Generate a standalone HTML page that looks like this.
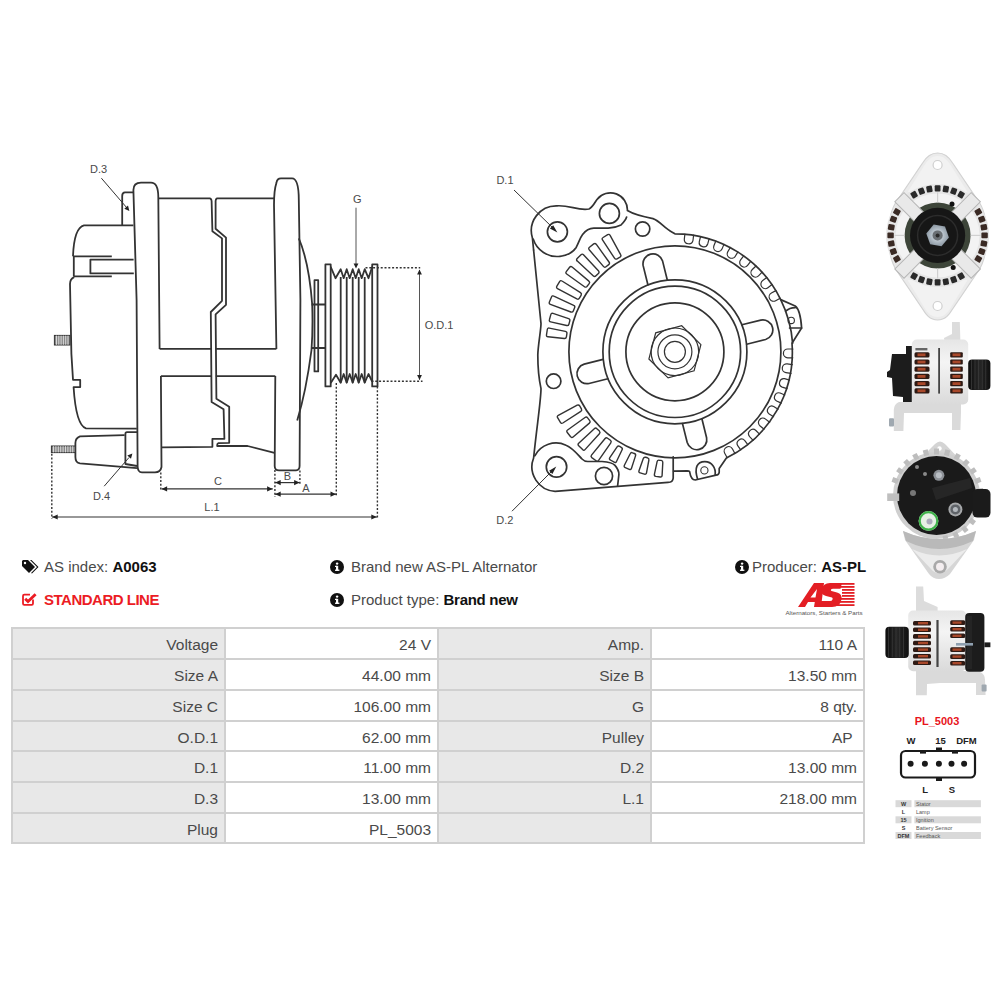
<!DOCTYPE html>
<html><head><meta charset="utf-8">
<style>
html,body{margin:0;padding:0;background:#fff;width:1000px;height:1000px;overflow:hidden;position:relative;font-family:"Liberation Sans",sans-serif;}
.t{position:absolute;white-space:nowrap;font-size:15px;color:#4a4a4a;line-height:1;}
.b{font-weight:bold;color:#111;}
.red{color:#ec1c24;font-weight:bold;letter-spacing:-0.5px;}
.c{position:absolute;text-align:right;font-size:15.5px;color:#4a4a4a;box-sizing:border-box;padding-right:6px;white-space:nowrap;}
</style></head><body>
<svg width="1000" height="1000" viewBox="0 0 1000 1000" style="position:absolute;left:0;top:0">
<g><path d="M159.6,348.9 L158.3,196.8 Q158.2,182.6 151,182.6 L141,182.6 Q133.4,182.6 133.4,190 L136.6,300 L137.6,466 Q137.6,472.4 142,472.4 L155,472.4 Q160.5,472.4 161.5,467 L160.9,376.1" fill="none" stroke="#333" stroke-width="1.8" stroke-linejoin="round" /><path d="M133.4,192.4 L125,192.4 Q122.2,192.4 122.2,196 L122.2,225.4" fill="none" stroke="#333" stroke-width="1.8" stroke-linejoin="round" /><path d="M133.4,225.4 L84,225.4 Q74,228 73,256.4" fill="none" stroke="#333" stroke-width="1.8" stroke-linejoin="round" /><path d="M73,256.4 L111.8,256.4" fill="none" stroke="#333" stroke-width="1.8" stroke-linejoin="round" /><path d="M133.6,259.6 L90.4,259.6 L90.4,273.4 L133.8,273.4" fill="none" stroke="#333" stroke-width="1.8" stroke-linejoin="round" /><path d="M73.8,256.4 L73.8,276.4 M73.8,276.4 L111.8,276.4" fill="none" stroke="#333" stroke-width="1.8" stroke-linejoin="round" /><path d="M74.2,277.2 Q70,279 70,284 L71.4,354 L73,379.8 L80.2,379.8 L80.2,387 L73.6,387.2 Q76,425 86,428.4 L136.8,428.6" fill="none" stroke="#333" stroke-width="1.8" stroke-linejoin="round" /><rect x="54.4" y="335.4" width="15.6" height="9.6" fill="#888" stroke="#333" stroke-width="1"/><line x1="56.5" y1="335.6" x2="56.5" y2="344.8" stroke="#eee" stroke-width="0.8"/><line x1="58.8" y1="335.6" x2="58.8" y2="344.8" stroke="#eee" stroke-width="0.8"/><line x1="61.1" y1="335.6" x2="61.1" y2="344.8" stroke="#eee" stroke-width="0.8"/><line x1="63.4" y1="335.6" x2="63.4" y2="344.8" stroke="#eee" stroke-width="0.8"/><line x1="65.7" y1="335.6" x2="65.7" y2="344.8" stroke="#eee" stroke-width="0.8"/><line x1="68.0" y1="335.6" x2="68.0" y2="344.8" stroke="#eee" stroke-width="0.8"/><path d="M124.6,435.2 L80,436.4 Q75.4,438 75.4,443 L75.4,457 Q75.4,462.8 80,463.4 L137,468.2" fill="none" stroke="#333" stroke-width="1.8" stroke-linejoin="round" /><path d="M137,432.2 L127,432.2 Q125.4,432.2 125.4,434 L125.4,464 L137,466" fill="none" stroke="#333" stroke-width="1.8" stroke-linejoin="round" /><rect x="51.4" y="446" width="24" height="6.6" fill="#888" stroke="#333" stroke-width="1"/><line x1="53.5" y1="446.2" x2="53.5" y2="452.4" stroke="#eee" stroke-width="0.8"/><line x1="55.9" y1="446.2" x2="55.9" y2="452.4" stroke="#eee" stroke-width="0.8"/><line x1="58.3" y1="446.2" x2="58.3" y2="452.4" stroke="#eee" stroke-width="0.8"/><line x1="60.7" y1="446.2" x2="60.7" y2="452.4" stroke="#eee" stroke-width="0.8"/><line x1="63.1" y1="446.2" x2="63.1" y2="452.4" stroke="#eee" stroke-width="0.8"/><line x1="65.5" y1="446.2" x2="65.5" y2="452.4" stroke="#eee" stroke-width="0.8"/><line x1="67.9" y1="446.2" x2="67.9" y2="452.4" stroke="#eee" stroke-width="0.8"/><line x1="70.3" y1="446.2" x2="70.3" y2="452.4" stroke="#eee" stroke-width="0.8"/><line x1="72.7" y1="446.2" x2="72.7" y2="452.4" stroke="#eee" stroke-width="0.8"/><path d="M158.3,198.4 L210,198.4 Q211.6,199 211.6,201 L212.4,231.2 L222,238.4 L222,300.8 L210.8,312 L211.6,402 L223.6,409.2 L224.4,438.8 L212.4,438.8 L212.4,446.8 L161.5,447.3" fill="none" stroke="#333" stroke-width="1.8" stroke-linejoin="round" /><path d="M274,198.4 L217,198.4 Q215.6,199 215.6,201 L215.6,228.8 L226,237.6 L226,304.8 L215.6,314.4 L216.4,398.8 L229.2,406.8 L229.2,442.8 L218.5,443.1 Q217.2,443.5 217.2,445 L217.2,446 L247.6,446 L274.5,452.9" fill="none" stroke="#333" stroke-width="1.8" stroke-linejoin="round" /><path d="M159.6,348.9 L211.8,348.9 M215.6,348.9 L276.4,348.9" fill="none" stroke="#333" stroke-width="1.8" stroke-linejoin="round" /><path d="M160.9,376.1 L211.8,376.1 M215.8,376.1 L275.3,376.1" fill="none" stroke="#333" stroke-width="1.8" stroke-linejoin="round" /><path d="M276.4,348.9 L274,205 Q274,190 276.4,183 Q277,178.4 281,178.4 L292,178.4 Q298.8,178.4 298.8,200 L300.4,300 L299.6,466 Q299.6,470 296,470.4 L279,470.4 Q274.7,470.4 274.7,466 L275.3,376.1" fill="none" stroke="#333" stroke-width="1.8" stroke-linejoin="round" /><path d="M298.8,238.4 Q309,262 312.2,304.5 Q313,330 311.5,350 Q306,392 297.2,420.4" fill="none" stroke="#333" stroke-width="1.8" stroke-linejoin="round" /><path d="M314.5,280.2 L318.2,280.2 L318.2,371.4 L314.5,371.4 Z" fill="none" stroke="#333" stroke-width="1.8" stroke-linejoin="round" /><path d="M311.5,304.5 L325.4,304.5 M311.5,348 L325.4,348" fill="none" stroke="#333" stroke-width="1.8" stroke-linejoin="round" /><path d="M325.4,264.4 L330.7,264.4 L330.7,386.4 L325.4,386.4 Z" fill="none" stroke="#333" stroke-width="1.8" stroke-linejoin="round" /><path d="M372.2,264.4 L377.5,264.4 L377.5,386.4 L372.2,386.4 Z" fill="none" stroke="#333" stroke-width="1.8" stroke-linejoin="round" /><path d="M330.7,266.8 L335.5,278.2 L340.7,269.2 L343.7,278.2 L346.7,269.2 L349.7,278.2 L352.7,269.2 L355.7,278.2 L358.7,269.2 L361.7,278.2 L364.7,269.2 L368.5,278.2 L372.2,266.8" fill="none" stroke="#333" stroke-width="1.8" stroke-linejoin="round" /><path d="M330.7,383 L336,374.8 L340.7,382.7 L343.7,374 L346.7,382.7 L349.7,374 L352.7,382.7 L355.7,374 L358.7,382.7 L361.7,374 L364.7,382.7 L368.5,374 L372.2,381.5" fill="none" stroke="#333" stroke-width="1.8" stroke-linejoin="round" /><path d="M340.7,277 L340.7,382.7" fill="none" stroke="#333" stroke-width="1.8" stroke-linejoin="round" /><path d="M346.7,277 L346.7,382.7" fill="none" stroke="#333" stroke-width="1.8" stroke-linejoin="round" /><path d="M352.7,277 L352.7,382.7" fill="none" stroke="#333" stroke-width="1.8" stroke-linejoin="round" /><path d="M358.7,277 L358.7,382.7" fill="none" stroke="#333" stroke-width="1.8" stroke-linejoin="round" /><path d="M364.7,277 L364.7,382.7" fill="none" stroke="#333" stroke-width="1.8" stroke-linejoin="round" /></g>
<line x1="160.8" y1="472.4" x2="160.8" y2="491" stroke="#333" stroke-width="1.4" stroke-dasharray="2,1.8"/><line x1="274.9" y1="470" x2="274.9" y2="497" stroke="#333" stroke-width="1.4" stroke-dasharray="2,1.8"/><line x1="161.6" y1="488.9" x2="272.8" y2="488.9" stroke="#333" stroke-width="1.2"/><path d="M161.6,488.9 L167.1,486.3 L167.1,491.5 Z" fill="#222"/><path d="M272.6,488.9 L267.1,491.5 L267.1,486.3 Z" fill="#222"/><line x1="299.9" y1="470.4" x2="299.9" y2="484" stroke="#333" stroke-width="1.4" stroke-dasharray="2,1.8"/><line x1="275" y1="482.6" x2="299.6" y2="482.6" stroke="#333" stroke-width="1.2"/><path d="M275.2,482.6 L280.7,480 L280.7,485.2 Z" fill="#222"/><path d="M299.6,482.6 L294.1,485.2 L294.1,480 Z" fill="#222"/><line x1="336.3" y1="383" x2="336.3" y2="497" stroke="#333" stroke-width="1.4" stroke-dasharray="2,1.8"/><line x1="275" y1="494.2" x2="336" y2="494.2" stroke="#333" stroke-width="1.2"/><path d="M275.2,494.2 L280.7,491.6 L280.7,496.8 Z" fill="#222"/><path d="M336,494.2 L330.5,496.8 L330.5,491.6 Z" fill="#222"/><line x1="51.8" y1="453.8" x2="51.8" y2="519" stroke="#333" stroke-width="1.4" stroke-dasharray="2,1.8"/><line x1="377.4" y1="386.4" x2="377.4" y2="519" stroke="#333" stroke-width="1.4" stroke-dasharray="2,1.8"/><line x1="52" y1="517" x2="377" y2="517" stroke="#333" stroke-width="1.2"/><path d="M52.2,517 L57.7,514.4 L57.7,519.6 Z" fill="#222"/><path d="M376.8,517 L371.3,519.6 L371.3,514.4 Z" fill="#222"/><line x1="365.5" y1="267.7" x2="420.2" y2="267.7" stroke="#333" stroke-width="1.4" stroke-dasharray="2,1.8"/><line x1="371.5" y1="381.2" x2="422.5" y2="381.2" stroke="#333" stroke-width="1.4" stroke-dasharray="2,1.8"/><line x1="419.5" y1="270" x2="419.5" y2="379.7" stroke="#555" stroke-width="1.0"/><path d="M419.5,269.5 L421.9,274.5 L417.1,274.5 Z" fill="#222"/><path d="M419.5,380 L417.1,375 L421.9,375 Z" fill="#222"/><line x1="356" y1="207.7" x2="356" y2="265" stroke="#555" stroke-width="1.0"/><path d="M356,268.5 L353.6,263.5 L358.4,263.5 Z" fill="#222"/><line x1="101.4" y1="178.2" x2="127" y2="208" stroke="#333" stroke-width="1.0"/><path d="M129.4,211 L124.3,208.8 L128,205.6 Z" fill="#222"/><line x1="104.2" y1="486.2" x2="129" y2="457.5" stroke="#333" stroke-width="1.0"/><path d="M132.4,453.4 L131,458.8 L127.3,455.6 Z" fill="#222"/>
<text x="90" y="172.6" font-size="11" fill="#4a4a4a" text-anchor="start" font-family="Liberation Sans">D.3</text><text x="93" y="500.2" font-size="11" fill="#4a4a4a" text-anchor="start" font-family="Liberation Sans">D.4</text><text x="217.9" y="485.2" font-size="11" fill="#4a4a4a" text-anchor="middle" font-family="Liberation Sans">C</text><text x="287.3" y="479.5" font-size="11" fill="#4a4a4a" text-anchor="middle" font-family="Liberation Sans">B</text><text x="305.8" y="492.1" font-size="11" fill="#4a4a4a" text-anchor="middle" font-family="Liberation Sans">A</text><text x="212" y="510.8" font-size="11" fill="#4a4a4a" text-anchor="middle" font-family="Liberation Sans">L.1</text><text x="357.2" y="203.2" font-size="11" fill="#4a4a4a" text-anchor="middle" font-family="Liberation Sans">G</text><text x="424.7" y="329" font-size="11" fill="#4a4a4a" text-anchor="start" font-family="Liberation Sans">O.D.1</text>
<g><circle cx="674.9" cy="351.8" r="72" fill="none" stroke="#333" stroke-width="1.7"/><circle cx="674.9" cy="351.8" r="65.7" fill="none" stroke="#333" stroke-width="1.7"/><circle cx="674.9" cy="351.8" r="49" fill="none" stroke="#333" stroke-width="1.7"/><circle cx="674.9" cy="351.8" r="23.8" fill="none" stroke="#333" stroke-width="1.2"/><circle cx="674.9" cy="351.8" r="17" fill="none" stroke="#333" stroke-width="1.2"/><circle cx="674.9" cy="351.8" r="10.5" fill="none" stroke="#333" stroke-width="1.2"/><polygon points="681.7,325.7 700.9,344.6 694.1,370.8 668.1,377.9 648.9,359 655.7,332.8" fill="none" stroke="#333" stroke-width="1.2"/><circle cx="674.9" cy="351.8" r="106" fill="none" stroke="#333" stroke-width="1.7"/><path d="M667.3,280 L662.6,261.1 A10,10 0 0 0 643.2,265.9 L647.9,284.8" fill="none" stroke="#333" stroke-width="1.7" stroke-linejoin="round" stroke-linecap="round"/><path d="M746.7,344.2 L765.6,339.5 A10,10 0 0 0 760.8,320.1 L741.9,324.8" fill="none" stroke="#333" stroke-width="1.7" stroke-linejoin="round" stroke-linecap="round"/><path d="M682.5,423.6 L687.2,442.5 A10,10 0 0 0 706.6,437.7 L701.9,418.8" fill="none" stroke="#333" stroke-width="1.7" stroke-linejoin="round" stroke-linecap="round"/><path d="M603.1,359.4 L584.2,364.1 A10,10 0 0 0 589,383.5 L607.9,378.8" fill="none" stroke="#333" stroke-width="1.7" stroke-linejoin="round" stroke-linecap="round"/><circle cx="557.4" cy="231.8" r="10" fill="none" stroke="#333" stroke-width="1.7"/><circle cx="609.4" cy="213.4" r="10" fill="none" stroke="#333" stroke-width="1.7"/><circle cx="642.6" cy="229" r="7.2" fill="none" stroke="#333" stroke-width="1.7"/><circle cx="556.5" cy="466.9" r="10.2" fill="none" stroke="#333" stroke-width="1.7"/><circle cx="604" cy="476" r="8.6" fill="none" stroke="#333" stroke-width="1.7"/><circle cx="553.6" cy="381.2" r="7.3" fill="none" stroke="#333" stroke-width="1.7"/><circle cx="791.2" cy="320.4" r="3.2" fill="none" stroke="#333" stroke-width="1.1"/><circle cx="704.4" cy="470.4" r="3.6" fill="none" stroke="#333" stroke-width="1.1"/><path d="M533.6,250 L532.4,238 A25,25 0 0 1 557,205.8 C570,205 578,211 589,209 C593,207 595,202 597,199.4 A17,17 0 0 1 627.4,210.6 C633,214 640,216.2 653,218.6 C660,221 664,228 672.2,232.2 L674.9,233.8 A118,118 0 0 1 780.7,299.6 L795.2,306 C799,309 801,318 801.6,328 L792,343.2 A118,118 0 0 1 726.4,458 L719.2,468.4 L719.2,472.4 C719,474 717.5,475 716,475.2 L695.2,480 C692,480 690.5,477 689.6,471.6 C689,470.8 688,470.8 687.2,470.8 L673.6,471.2" fill="none" stroke="#333" stroke-width="1.7" stroke-linejoin="round" stroke-linecap="round"/><path d="M780.7,299.6 A118,118 0 0 1 792.6,343.2" fill="none" stroke="#333" stroke-width="1.7" stroke-linejoin="round" stroke-linecap="round"/><path d="M673.2,456.8 L673.2,478 C673,481 671,482.4 668,482.4 L555.1,491.3 A24.5,24.5 0 0 1 533.6,458 C537,425 541,400 541,388.6 C538,375 537.8,365 537.8,355 C538,345 541,330 541,323.5 L533.6,250" fill="none" stroke="#333" stroke-width="1.7" stroke-linejoin="round" stroke-linecap="round"/><path d="M697.6,479.2 C694,468 697,461.6 704.8,461.6 C712,461.6 716,468 715.2,474.8" fill="none" stroke="#333" stroke-width="1.7" stroke-linejoin="round" stroke-linecap="round"/><path d="M785.6,311.2 C788,309 792,307.6 795.2,307.6" fill="none" stroke="#333" stroke-width="1.7" stroke-linejoin="round" stroke-linecap="round"/><path d="M789.6,328 L801.6,328" fill="none" stroke="#333" stroke-width="1.7" stroke-linejoin="round" stroke-linecap="round"/><path d="M533.2,239 A25,25 0 0 0 560,256.3 C567,255.5 573,252 576.2,247.4 C579,242 580,238 582.6,234.6 C586,230 590,228.2 593.8,228.2 L608.2,228.2 C614,228 619,226 621,225 C624,222 626,219 626.6,217" fill="none" stroke="#333" stroke-width="1.7" stroke-linejoin="round" stroke-linecap="round"/><path d="M534.8,455.8 A24,24 0 0 1 566,445.2 C573,448 578,455 582,459 C584,461 585.5,461.5 587.7,461.5 L602,461.5 C608,462 613,463 615,465.4 C618,469 619,472 618.9,474.5 L617.6,486.2" fill="none" stroke="#333" stroke-width="1.7" stroke-linejoin="round" stroke-linecap="round"/><path d="M620,257.1 Q621.5,256.1 620.6,254.6 L610.1,235.3 Q609.2,233.8 607.7,234.7 L603.1,237.5 Q601.5,238.4 602.5,239.9 L614.5,258.2 Q615.5,259.7 617,258.8 Z" fill="none" stroke="#333" stroke-width="1.4" stroke-linejoin="round"/><path d="M608.7,264.6 Q610.1,263.5 609,262 L596.2,244.2 Q595.1,242.8 593.7,243.9 L589.5,247.2 Q588.1,248.3 589.2,249.7 L603.4,266.4 Q604.6,267.8 606,266.7 Z" fill="none" stroke="#333" stroke-width="1.4" stroke-linejoin="round"/><path d="M598.4,273.4 Q599.7,272.2 598.4,270.8 L583.5,254.8 Q582.3,253.5 581,254.8 L577.2,258.6 Q575.9,259.9 577.3,261.1 L593.4,275.9 Q594.7,277.1 596,275.8 Z" fill="none" stroke="#333" stroke-width="1.4" stroke-linejoin="round"/><path d="M589.2,283.6 Q590.3,282.2 588.9,281.1 L572.1,267 Q570.7,265.9 569.6,267.3 L566.3,271.6 Q565.2,273 566.7,274 L584.5,286.7 Q586,287.8 587.1,286.3 Z" fill="none" stroke="#333" stroke-width="1.4" stroke-linejoin="round"/><path d="M581.1,295.3 Q582,293.7 580.5,292.7 L562,281 Q560.5,280 559.6,281.6 L556.9,286.2 Q556,287.8 557.5,288.6 L576.9,298.9 Q578.5,299.7 579.4,298.2 Z" fill="none" stroke="#333" stroke-width="1.4" stroke-linejoin="round"/><path d="M574.6,307.8 Q575.3,306.1 573.7,305.4 L553.8,296.1 Q552.2,295.3 551.5,297 L549.4,302 Q548.7,303.6 550.4,304.3 L570.9,312 Q572.6,312.6 573.3,310.9 Z" fill="none" stroke="#333" stroke-width="1.4" stroke-linejoin="round"/><path d="M569.8,320.9 Q570.3,319.2 568.6,318.6 L553,313.4 Q551.3,312.9 550.8,314.6 L549.4,319.8 Q548.9,321.5 550.7,321.9 L566.7,325.5 Q568.4,325.9 568.9,324.2 Z" fill="none" stroke="#333" stroke-width="1.4" stroke-linejoin="round"/><path d="M566.9,333.6 Q567.2,331.8 565.4,331.4 L549.3,328.1 Q547.6,327.8 547.3,329.5 L546.5,334.9 Q546.2,336.7 548,336.8 L564.3,338.5 Q566.1,338.7 566.4,336.9 Z" fill="none" stroke="#333" stroke-width="1.4" stroke-linejoin="round"/><path d="M579.7,405.9 Q578.8,404.4 577.2,405.2 L558.3,415.3 Q556.7,416.2 557.6,417.7 L560.4,422.4 Q561.3,423.9 562.8,423 L580.8,411.4 Q582.3,410.4 581.4,408.8 Z" fill="none" stroke="#333" stroke-width="1.4" stroke-linejoin="round"/><path d="M587.6,417.9 Q586.5,416.5 585,417.5 L567.6,430 Q566.1,431.1 567.3,432.5 L570.6,436.7 Q571.7,438.2 573.1,437 L589.4,423.1 Q590.8,422 589.7,420.6 Z" fill="none" stroke="#333" stroke-width="1.4" stroke-linejoin="round"/><path d="M596.9,428.7 Q595.7,427.4 594.3,428.7 L578.7,443.3 Q577.4,444.6 578.7,445.8 L582.6,449.6 Q583.8,450.9 585,449.6 L599.4,433.7 Q600.6,432.4 599.4,431.1 Z" fill="none" stroke="#333" stroke-width="1.4" stroke-linejoin="round"/><path d="M607.6,438.2 Q606.2,437.1 605.1,438.5 L591.5,455.1 Q590.4,456.5 591.8,457.6 L596.1,460.8 Q597.5,461.9 598.6,460.4 L610.8,442.8 Q611.8,441.4 610.4,440.3 Z" fill="none" stroke="#333" stroke-width="1.4" stroke-linejoin="round"/><path d="M619.7,446.3 Q618.1,445.5 617.1,446.9 L609.8,457.7 Q608.8,459.2 610.4,460 L614.2,462.2 Q615.8,463.1 616.5,461.5 L622.1,449.8 Q622.9,448.2 621.3,447.3 Z" fill="none" stroke="#333" stroke-width="1.4" stroke-linejoin="round"/><path d="M632.6,452.8 Q631,452.1 630.2,453.8 L624.4,465.3 Q623.6,466.9 625.3,467.6 L629.3,469.3 Q631,470 631.5,468.3 L635.5,455.9 Q636.1,454.2 634.4,453.5 Z" fill="none" stroke="#333" stroke-width="1.4" stroke-linejoin="round"/><path d="M645.6,457.3 Q643.9,456.9 643.3,458.6 L639,470.8 Q638.4,472.5 640.2,472.9 L644.4,474.1 Q646.2,474.5 646.5,472.8 L648.9,460 Q649.2,458.3 647.5,457.8 Z" fill="none" stroke="#333" stroke-width="1.4" stroke-linejoin="round"/><path d="M659.3,460.2 Q657.5,459.9 657.1,461.7 L654.4,474.4 Q654.1,476.1 655.8,476.4 L660.2,477 Q662,477.2 662.1,475.4 L662.8,462.5 Q663,460.7 661.2,460.4 Z" fill="none" stroke="#333" stroke-width="1.4" stroke-linejoin="round"/><path d="M693.6,235.2 L693,240.3 A4.4,4.4 0 0 1 684.3,239.2 L684.9,234.1" fill="none" stroke="#333" stroke-width="1.2" stroke-linejoin="round" stroke-linecap="round"/><path d="M709.1,238.8 L707.8,243.7 A4.4,4.4 0 0 1 699.3,241.5 L700.6,236.5" fill="none" stroke="#333" stroke-width="1.2" stroke-linejoin="round" stroke-linecap="round"/><path d="M723.9,244.4 L722,249.1 A4.4,4.4 0 0 1 713.9,245.7 L715.8,241" fill="none" stroke="#333" stroke-width="1.2" stroke-linejoin="round" stroke-linecap="round"/><path d="M737.9,251.9 L735.3,256.3 A4.4,4.4 0 0 1 727.7,251.9 L730.3,247.5" fill="none" stroke="#333" stroke-width="1.2" stroke-linejoin="round" stroke-linecap="round"/><path d="M750.7,261.3 L747.6,265.3 A4.4,4.4 0 0 1 740.6,259.9 L743.7,255.9" fill="none" stroke="#333" stroke-width="1.2" stroke-linejoin="round" stroke-linecap="round"/><path d="M762.1,272.2 L758.5,275.8 A4.4,4.4 0 0 1 752.3,269.5 L756,266" fill="none" stroke="#333" stroke-width="1.2" stroke-linejoin="round" stroke-linecap="round"/><path d="M772,284.6 L767.9,287.7 A4.4,4.4 0 0 1 762.7,280.6 L766.8,277.6" fill="none" stroke="#333" stroke-width="1.2" stroke-linejoin="round" stroke-linecap="round"/><path d="M780.1,298.3 L775.7,300.7 A4.4,4.4 0 0 1 771.4,293 L775.9,290.6" fill="none" stroke="#333" stroke-width="1.2" stroke-linejoin="round" stroke-linecap="round"/><path d="M792.8,357.8 L787.7,357.8 A4.4,4.4 0 0 1 787.9,349 L792.9,349" fill="none" stroke="#333" stroke-width="1.2" stroke-linejoin="round" stroke-linecap="round"/><path d="M791,373.4 L785.9,372.6 A4.4,4.4 0 0 1 787.2,363.9 L792.3,364.7" fill="none" stroke="#333" stroke-width="1.2" stroke-linejoin="round" stroke-linecap="round"/><path d="M787.1,388.6 L782.2,387.1 A4.4,4.4 0 0 1 784.6,378.7 L789.5,380.1" fill="none" stroke="#333" stroke-width="1.2" stroke-linejoin="round" stroke-linecap="round"/><path d="M781.3,403.1 L776.6,401 A4.4,4.4 0 0 1 780.1,393 L784.8,395" fill="none" stroke="#333" stroke-width="1.2" stroke-linejoin="round" stroke-linecap="round"/><path d="M773.6,416.7 L769.2,414 A4.4,4.4 0 0 1 773.7,406.5 L778.1,409.2" fill="none" stroke="#333" stroke-width="1.2" stroke-linejoin="round" stroke-linecap="round"/><path d="M764.1,429.2 L760.1,426 A4.4,4.4 0 0 1 765.6,419.1 L769.6,422.3" fill="none" stroke="#333" stroke-width="1.2" stroke-linejoin="round" stroke-linecap="round"/><path d="M753.1,440.3 L749.6,436.6 A4.4,4.4 0 0 1 755.9,430.5 L759.5,434.2" fill="none" stroke="#333" stroke-width="1.2" stroke-linejoin="round" stroke-linecap="round"/><path d="M740.7,449.9 L737.7,445.7 A4.4,4.4 0 0 1 744.8,440.6 L747.8,444.7" fill="none" stroke="#333" stroke-width="1.2" stroke-linejoin="round" stroke-linecap="round"/><path d="M727.2,457.7 L724.7,453.2 A4.4,4.4 0 0 1 732.5,449 L734.9,453.5" fill="none" stroke="#333" stroke-width="1.2" stroke-linejoin="round" stroke-linecap="round"/><line x1="514" y1="190" x2="553" y2="228" stroke="#333" stroke-width="1"/><path d="M557.4,232.4 L549.9,228.6 L553.2,225.2 Z" fill="#222"/><line x1="512" y1="511.2" x2="552.5" y2="470.5" stroke="#333" stroke-width="1"/><path d="M556.3,466.6 L552.4,474 L549.1,470.7 Z" fill="#222"/><text x="496.4" y="184.4" font-size="11" fill="#4a4a4a" font-family="Liberation Sans">D.1</text><text x="496.3" y="523.8" font-size="11" fill="#4a4a4a" font-family="Liberation Sans">D.2</text></g>
</svg>
<svg width="1000" height="1000" viewBox="0 0 1000 1000" style="position:absolute;left:0;top:0">
<defs>
<linearGradient id="gside" x1="0" y1="0" x2="0" y2="1"><stop offset="0" stop-color="#e6e6e6"/><stop offset="0.35" stop-color="#f4f4f4"/><stop offset="1" stop-color="#dadada"/></linearGradient>
<linearGradient id="gpul" x1="0" y1="0" x2="1" y2="0"><stop offset="0" stop-color="#0d0d0d"/><stop offset="0.5" stop-color="#262626"/><stop offset="1" stop-color="#101010"/></linearGradient>
<radialGradient id="gnut" cx="0.5" cy="0.5" r="0.5"><stop offset="0" stop-color="#6b7178"/><stop offset="0.5" stop-color="#b9c3cc"/><stop offset="1" stop-color="#8d99a4"/></radialGradient>
</defs>
<path d="M937.6,153 C945.6,153 949.6,158 952.6,163 L977.6,200 C989.6,215 989.6,256 977.6,272 L952.6,309 C949.6,314 945.6,320 937.6,320 C929.6,320 925.6,314 922.6,309 L897.6,272 C885.6,256 885.6,215 897.6,200 L922.6,163 C925.6,158 929.6,153 937.6,153 Z" fill="#ebebeb" stroke="#d2d2d2" stroke-width="1.2"/>
<path d="M937.6,156 C943.6,156 947.6,160 950.6,165 L967.6,192 L907.6,192 L924.6,165 C927.6,160 931.6,156 937.6,156 Z" fill="#f2f2f2"/>
<path d="M937.6,317 C943.6,317 947.6,313 950.6,308 L967.6,280 L907.6,280 L924.6,308 C927.6,313 931.6,317 937.6,317 Z" fill="#f2f2f2"/>
<circle cx="937.6" cy="165" r="4.5" fill="#fff" stroke="#cfcfcf" stroke-width="1.2"/>
<circle cx="937.6" cy="306" r="4.5" fill="#fff" stroke="#cfcfcf" stroke-width="1.2"/>
<circle cx="937.6" cy="235.4" r="51.5" fill="#e6e6e6"/>
<circle cx="937.6" cy="235.4" r="42" fill="#f3f3f3"/>
<rect x="-2.9" y="-3.2" width="5.8" height="6.4" rx="1" fill="#2a2a2a" transform="translate(914.1,194.7) rotate(-30)"/>
<rect x="-2.9" y="-3.2" width="5.8" height="6.4" rx="1" fill="#2a2a2a" transform="translate(921.5,191.2) rotate(-20)"/>
<rect x="-2.9" y="-3.2" width="5.8" height="6.4" rx="1" fill="#2a2a2a" transform="translate(929.4,189.1) rotate(-10)"/>
<rect x="-2.9" y="-3.2" width="5.8" height="6.4" rx="1" fill="#2a2a2a" transform="translate(937.6,188.4) rotate(0)"/>
<rect x="-2.9" y="-3.2" width="5.8" height="6.4" rx="1" fill="#2a2a2a" transform="translate(945.8,189.1) rotate(10)"/>
<rect x="-2.9" y="-3.2" width="5.8" height="6.4" rx="1" fill="#2a2a2a" transform="translate(953.7,191.2) rotate(20)"/>
<rect x="-2.9" y="-3.2" width="5.8" height="6.4" rx="1" fill="#2a2a2a" transform="translate(961.1,194.7) rotate(30)"/>
<rect x="-2.9" y="-3.2" width="5.8" height="6.4" rx="1" fill="#3a2a24" transform="translate(978.3,211.9) rotate(60)"/>
<rect x="-2.9" y="-3.2" width="5.8" height="6.4" rx="1" fill="#3a2a24" transform="translate(981.8,219.3) rotate(70)"/>
<rect x="-2.9" y="-3.2" width="5.8" height="6.4" rx="1" fill="#3a2a24" transform="translate(983.9,227.2) rotate(80)"/>
<rect x="-2.9" y="-3.2" width="5.8" height="6.4" rx="1" fill="#3a2a24" transform="translate(984.6,235.4) rotate(90)"/>
<rect x="-2.9" y="-3.2" width="5.8" height="6.4" rx="1" fill="#3a2a24" transform="translate(983.9,243.6) rotate(100)"/>
<rect x="-2.9" y="-3.2" width="5.8" height="6.4" rx="1" fill="#3a2a24" transform="translate(981.8,251.5) rotate(110)"/>
<rect x="-2.9" y="-3.2" width="5.8" height="6.4" rx="1" fill="#3a2a24" transform="translate(978.3,258.9) rotate(120)"/>
<rect x="-2.9" y="-3.2" width="5.8" height="6.4" rx="1" fill="#2a2a2a" transform="translate(961.1,276.1) rotate(150)"/>
<rect x="-2.9" y="-3.2" width="5.8" height="6.4" rx="1" fill="#2a2a2a" transform="translate(953.7,279.6) rotate(160)"/>
<rect x="-2.9" y="-3.2" width="5.8" height="6.4" rx="1" fill="#2a2a2a" transform="translate(945.8,281.7) rotate(170)"/>
<rect x="-2.9" y="-3.2" width="5.8" height="6.4" rx="1" fill="#2a2a2a" transform="translate(937.6,282.4) rotate(180)"/>
<rect x="-2.9" y="-3.2" width="5.8" height="6.4" rx="1" fill="#2a2a2a" transform="translate(929.4,281.7) rotate(190)"/>
<rect x="-2.9" y="-3.2" width="5.8" height="6.4" rx="1" fill="#2a2a2a" transform="translate(921.5,279.6) rotate(200)"/>
<rect x="-2.9" y="-3.2" width="5.8" height="6.4" rx="1" fill="#2a2a2a" transform="translate(914.1,276.1) rotate(210)"/>
<rect x="-2.9" y="-3.2" width="5.8" height="6.4" rx="1" fill="#3a2a24" transform="translate(896.9,258.9) rotate(240)"/>
<rect x="-2.9" y="-3.2" width="5.8" height="6.4" rx="1" fill="#3a2a24" transform="translate(893.4,251.5) rotate(250)"/>
<rect x="-2.9" y="-3.2" width="5.8" height="6.4" rx="1" fill="#3a2a24" transform="translate(891.3,243.6) rotate(260)"/>
<rect x="-2.9" y="-3.2" width="5.8" height="6.4" rx="1" fill="#3a2a24" transform="translate(890.6,235.4) rotate(270)"/>
<rect x="-2.9" y="-3.2" width="5.8" height="6.4" rx="1" fill="#3a2a24" transform="translate(891.3,227.2) rotate(280)"/>
<rect x="-2.9" y="-3.2" width="5.8" height="6.4" rx="1" fill="#3a2a24" transform="translate(893.4,219.3) rotate(290)"/>
<rect x="-2.9" y="-3.2" width="5.8" height="6.4" rx="1" fill="#3a2a24" transform="translate(896.9,211.9) rotate(300)"/>
<circle cx="937.6" cy="235.4" r="33" fill="#3d4539"/>
<rect x="24" y="-6.5" width="30" height="13" fill="#e9e9e9" stroke="#b5b5b5" stroke-width="1" transform="translate(937.6,235.4) rotate(45)"/>
<rect x="24" y="-6.5" width="30" height="13" fill="#e9e9e9" stroke="#b5b5b5" stroke-width="1" transform="translate(937.6,235.4) rotate(135)"/>
<rect x="24" y="-6.5" width="30" height="13" fill="#e9e9e9" stroke="#b5b5b5" stroke-width="1" transform="translate(937.6,235.4) rotate(225)"/>
<rect x="24" y="-6.5" width="30" height="13" fill="#e9e9e9" stroke="#b5b5b5" stroke-width="1" transform="translate(937.6,235.4) rotate(315)"/>
<rect x="33" y="-0.6" width="10" height="1.2" fill="#d0d0d0" transform="translate(937.6,235.4) rotate(0)"/>
<rect x="33" y="-0.6" width="10" height="1.2" fill="#d0d0d0" transform="translate(937.6,235.4) rotate(90)"/>
<rect x="33" y="-0.6" width="10" height="1.2" fill="#d0d0d0" transform="translate(937.6,235.4) rotate(180)"/>
<rect x="33" y="-0.6" width="10" height="1.2" fill="#d0d0d0" transform="translate(937.6,235.4) rotate(270)"/>
<circle cx="937.6" cy="235.4" r="27.6" fill="#161616"/>
<circle cx="937.6" cy="235.4" r="20" fill="none" stroke="#2c2c2c" stroke-width="1.5"/>
<polygon points="948.9,237.4 941.5,246.2 930.2,244.2 926.3,233.4 933.7,224.6 945,226.6" fill="url(#gnut)"/>
<circle cx="937.6" cy="235.4" r="5" fill="#6a6f74"/><circle cx="937.6" cy="235.4" r="2" fill="#2a2a2a"/>
<circle cx="952" cy="204" r="2.5" fill="#111"/><circle cx="953.2" cy="267.6" r="2.5" fill="#111"/>
<path d="M952,322 L959.8,322 L960.5,345 L945,345 L944,338 L952,334 Z" fill="#dcdcdc"/>
<path d="M899,402 L961,402 L961,412 L960.4,430 L952,430 L952,413 L904,413 L903.4,431 L893.8,431 L893.8,410 Q894,404 899,402 Z" fill="#dadada"/>
<rect x="889" y="418.2" width="5" height="8.4" rx="1" fill="#9fa8b0"/>
<rect x="911.8" y="339.6" width="56.4" height="64.8" rx="5" fill="url(#gside)"/>
<path d="M906,346 L911.8,346 L911.8,402 L903,402 L903,397 L893,396 L892,378 L887,377 L887,372 L890,370 L892,354 L906,354 Z" fill="#1c1c1c"/>
<rect x="914.5" y="352.2" width="15" height="5.2" rx="1.5" fill="#2e1a14"/>
<rect x="917.5" y="353.4" width="8" height="2.8" fill="#a8482a"/>
<rect x="950.2" y="352.2" width="12.6" height="5.2" rx="1" fill="#2e1a14"/>
<rect x="952.5" y="353.4" width="8" height="2.8" fill="#a8482a"/>
<rect x="914.5" y="359.4" width="15" height="5.2" rx="1.5" fill="#2e1a14"/>
<rect x="917.5" y="360.6" width="8" height="2.8" fill="#a8482a"/>
<rect x="950.2" y="359.4" width="12.6" height="5.2" rx="1" fill="#2e1a14"/>
<rect x="952.5" y="360.6" width="8" height="2.8" fill="#a8482a"/>
<rect x="914.5" y="366.6" width="15" height="5.2" rx="1.5" fill="#2e1a14"/>
<rect x="917.5" y="367.8" width="8" height="2.8" fill="#a8482a"/>
<rect x="950.2" y="366.6" width="12.6" height="5.2" rx="1" fill="#2e1a14"/>
<rect x="952.5" y="367.8" width="8" height="2.8" fill="#a8482a"/>
<rect x="914.5" y="373.8" width="15" height="5.2" rx="1.5" fill="#2e1a14"/>
<rect x="917.5" y="375.0" width="8" height="2.8" fill="#a8482a"/>
<rect x="950.2" y="373.8" width="12.6" height="5.2" rx="1" fill="#2e1a14"/>
<rect x="952.5" y="375.0" width="8" height="2.8" fill="#a8482a"/>
<rect x="914.5" y="381.0" width="15" height="5.2" rx="1.5" fill="#2e1a14"/>
<rect x="917.5" y="382.2" width="8" height="2.8" fill="#a8482a"/>
<rect x="950.2" y="381.0" width="12.6" height="5.2" rx="1" fill="#2e1a14"/>
<rect x="952.5" y="382.2" width="8" height="2.8" fill="#a8482a"/>
<rect x="914.5" y="388.2" width="15" height="5.2" rx="1.5" fill="#2e1a14"/>
<rect x="917.5" y="389.4" width="8" height="2.8" fill="#a8482a"/>
<rect x="950.2" y="388.2" width="12.6" height="5.2" rx="1" fill="#2e1a14"/>
<rect x="952.5" y="389.4" width="8" height="2.8" fill="#a8482a"/>
<rect x="915.4" y="348" width="12" height="2.4" fill="#666"/>
<rect x="938.2" y="348" width="1.8" height="45.6" fill="#444"/>
<rect x="968.2" y="359.4" width="22.2" height="30.6" rx="4" fill="url(#gpul)"/>
<rect x="971.0" y="360" width="0.8" height="29.4" fill="#3a3a3a"/>
<rect x="974.6" y="360" width="0.8" height="29.4" fill="#3a3a3a"/>
<rect x="978.2" y="360" width="0.8" height="29.4" fill="#3a3a3a"/>
<rect x="981.8" y="360" width="0.8" height="29.4" fill="#3a3a3a"/>
<rect x="985.4" y="360" width="0.8" height="29.4" fill="#3a3a3a"/>
<path d="M913,466 L935,444 Q940,439 945,444 L966,466 Z" fill="#d4d4d4"/>
<circle cx="939.5" cy="448.5" r="2.2" fill="#fff"/>
<circle cx="936.5" cy="495.5" r="43.5" fill="#cfcfcf"/>
<rect x="-3" y="-2.5" width="6" height="5" fill="#bdbdbd" transform="translate(895.2,480.5) rotate(200)"/>
<rect x="-3" y="-2.5" width="6" height="5" fill="#bdbdbd" transform="translate(900,470.9) rotate(214)"/>
<rect x="-3" y="-2.5" width="6" height="5" fill="#bdbdbd" transform="translate(907.1,462.8) rotate(228)"/>
<rect x="-3" y="-2.5" width="6" height="5" fill="#bdbdbd" transform="translate(915.8,456.7) rotate(242)"/>
<rect x="-3" y="-2.5" width="6" height="5" fill="#bdbdbd" transform="translate(925.9,452.8) rotate(256)"/>
<rect x="-3" y="-2.5" width="6" height="5" fill="#bdbdbd" transform="translate(936.5,451.5) rotate(270)"/>
<rect x="-3" y="-2.5" width="6" height="5" fill="#bdbdbd" transform="translate(947.1,452.8) rotate(284)"/>
<rect x="-3" y="-2.5" width="6" height="5" fill="#bdbdbd" transform="translate(957.2,456.7) rotate(298)"/>
<rect x="-3" y="-2.5" width="6" height="5" fill="#bdbdbd" transform="translate(965.9,462.8) rotate(312)"/>
<rect x="-3" y="-2.5" width="6" height="5" fill="#bdbdbd" transform="translate(973,470.9) rotate(326)"/>
<rect x="-3" y="-2.5" width="6" height="5" fill="#bdbdbd" transform="translate(977.8,480.5) rotate(340)"/>
<rect x="-3" y="-2.5" width="6" height="5" fill="#bdbdbd" transform="translate(980.3,490.9) rotate(354)"/>
<rect x="-3" y="-2.5" width="6" height="5" fill="#bdbdbd" transform="translate(980.1,501.6) rotate(368)"/>
<rect x="-3" y="-2.5" width="6" height="5" fill="#bdbdbd" transform="translate(977.3,512) rotate(382)"/>
<rect x="-3" y="-2.5" width="6" height="5" fill="#bdbdbd" transform="translate(972.1,521.4) rotate(396)"/>
<rect x="-3" y="-2.5" width="6" height="5" fill="#bdbdbd" transform="translate(964.8,529.2) rotate(410)"/>
<rect x="-3" y="-2.5" width="6" height="5" fill="#bdbdbd" transform="translate(955.8,535) rotate(424)"/>
<rect x="-3" y="-2.5" width="6" height="5" fill="#bdbdbd" transform="translate(945.6,538.5) rotate(438)"/>
<circle cx="936.5" cy="495.5" r="39.5" fill="#1a1a1a"/>
<rect x="887.2" y="493.4" width="12" height="7.6" fill="#bfbfbf"/>
<rect x="972.5" y="489" width="18" height="28.6" rx="5" fill="#1b1b1b"/>
<path d="M932,488 L970,478 L972,488 L936,500 Z" fill="#262626"/>
<circle cx="938.9" cy="475.3" r="5.5" fill="#8c9096"/><circle cx="938.9" cy="475.3" r="3" fill="#b9bec4"/>
<circle cx="955.4" cy="509.4" r="7" fill="#a6a8aa"/><circle cx="955.4" cy="509.4" r="5" fill="#5f6368"/><circle cx="955.4" cy="509.4" r="2.5" fill="#b3b8bd"/>
<circle cx="913" cy="493" r="3" fill="#777"/><circle cx="917" cy="467" r="2" fill="#8a8a8a"/><circle cx="925" cy="474" r="2" fill="#8a8a8a"/>
<circle cx="928.5" cy="520.9" r="9.9" fill="#e6efe4"/><circle cx="928.5" cy="520.9" r="8.8" fill="none" stroke="#3fb24a" stroke-width="2.2"/>
<circle cx="929.5" cy="521.5" r="3" fill="#aab"/>
<path d="M903,531 Q939,547 976,531 L974,540 L950,574 Q945,579 939,579 Q933,579 929,574 L905,540 Z" fill="#d6d6d6"/>
<path d="M912,549 Q939,562 967,549 L948,569 Q944,573 939,573 Q934,573 931,569 Z" fill="#ececec"/>
<path d="M903,531 Q939,547 976,531 L973,541 Q939,557 906,541 Z" fill="#b9b9b9"/>
<circle cx="940" cy="566.8" r="6.8" fill="#a9a9a9"/><circle cx="940" cy="566.8" r="4" fill="#f4eef0"/>
<path d="M916,586.6 L923.2,586.6 L924,601 L937.6,607 L937.6,612 L916,612 Z" fill="#dcdcdc"/>
<path d="M916,671 L966,671 L980,672 Q985,674 985,680 L985.6,695 L976,695 L976,683 L940,683 L927,684 L926.8,695.2 L916,695.2 Z" fill="#dadada"/>
<rect x="981.6" y="684.4" width="5" height="7.2" rx="1" fill="#9fa8b0"/>
<rect x="908.2" y="610.6" width="58.2" height="60.6" rx="5" fill="url(#gside)"/>
<rect x="965.2" y="613" width="19.2" height="58.8" rx="4" fill="#1c1c1c"/>
<rect x="967" y="616" width="5" height="53" fill="#242424"/>
<rect x="984.4" y="642.4" width="6" height="4.8" fill="#1c1c1c"/>
<rect x="956" y="643" width="17" height="2.6" fill="#8fa0b0"/>
<rect x="885.4" y="626.8" width="23.4" height="31.2" rx="4" fill="url(#gpul)"/>
<rect x="888.0" y="627.5" width="0.8" height="29.8" fill="#3a3a3a"/>
<rect x="891.8" y="627.5" width="0.8" height="29.8" fill="#3a3a3a"/>
<rect x="895.6" y="627.5" width="0.8" height="29.8" fill="#3a3a3a"/>
<rect x="899.4" y="627.5" width="0.8" height="29.8" fill="#3a3a3a"/>
<rect x="903.2" y="627.5" width="0.8" height="29.8" fill="#3a3a3a"/>
<rect x="913" y="620.9" width="18" height="4.6" rx="1.5" fill="#2e1a14"/>
<rect x="918" y="622.0" width="10" height="2.4" fill="#a8482a"/>
<rect x="913" y="627.5" width="18" height="4.6" rx="1.5" fill="#2e1a14"/>
<rect x="918" y="628.6" width="10" height="2.4" fill="#a8482a"/>
<rect x="913" y="634.1" width="18" height="4.6" rx="1.5" fill="#2e1a14"/>
<rect x="918" y="635.2" width="10" height="2.4" fill="#a8482a"/>
<rect x="913" y="640.7" width="18" height="4.6" rx="1.5" fill="#2e1a14"/>
<rect x="918" y="641.8" width="10" height="2.4" fill="#a8482a"/>
<rect x="913" y="647.3" width="18" height="4.6" rx="1.5" fill="#2e1a14"/>
<rect x="918" y="648.4" width="10" height="2.4" fill="#a8482a"/>
<rect x="913" y="653.9" width="18" height="4.6" rx="1.5" fill="#2e1a14"/>
<rect x="918" y="655.0" width="10" height="2.4" fill="#a8482a"/>
<rect x="913" y="660.5" width="18" height="4.6" rx="1.5" fill="#2e1a14"/>
<rect x="918" y="661.6" width="10" height="2.4" fill="#a8482a"/>
<rect x="950.2" y="620.3" width="15" height="4.6" rx="1.5" fill="#2e1a14"/>
<rect x="952.5" y="621.4" width="9" height="2.4" fill="#a8482a"/>
<rect x="950.2" y="626.9" width="15" height="4.6" rx="1.5" fill="#2e1a14"/>
<rect x="952.5" y="628.0" width="9" height="2.4" fill="#a8482a"/>
<rect x="950.2" y="633.5" width="15" height="4.6" rx="1.5" fill="#2e1a14"/>
<rect x="952.5" y="634.6" width="9" height="2.4" fill="#a8482a"/>
<rect x="950.2" y="647.3" width="15" height="4.6" rx="1.5" fill="#2e1a14"/>
<rect x="952.5" y="648.4" width="9" height="2.4" fill="#a8482a"/>
<rect x="950.2" y="654.3" width="15" height="4.6" rx="1.5" fill="#2e1a14"/>
<rect x="952.5" y="655.4" width="9" height="2.4" fill="#a8482a"/>
<rect x="950.2" y="660.9" width="15" height="4.6" rx="1.5" fill="#2e1a14"/>
<rect x="952.5" y="662.0" width="9" height="2.4" fill="#a8482a"/>
<rect x="936.4" y="620" width="2.2" height="47" fill="#444"/>
<text x="937" y="724.6" font-size="11" font-weight="bold" fill="#e8141b" text-anchor="middle" font-family="Liberation Sans">PL_5003</text>
<text x="911" y="744.2" font-size="9.5" font-weight="bold" fill="#222" text-anchor="middle" font-family="Liberation Sans">W</text>
<text x="940.6" y="744.2" font-size="9.5" font-weight="bold" fill="#222" text-anchor="middle" font-family="Liberation Sans">15</text>
<text x="966.5" y="744.2" font-size="9.5" font-weight="bold" fill="#222" text-anchor="middle" font-family="Liberation Sans">DFM</text>
<rect x="901" y="751" width="74" height="26.5" rx="4.5" fill="none" stroke="#1a1a1a" stroke-width="2.2"/>
<rect x="920" y="751" width="6" height="2.6" fill="#1a1a1a"/><rect x="936" y="747.5" width="6" height="4" fill="#1a1a1a"/><rect x="952" y="751" width="6" height="2.6" fill="#1a1a1a"/><rect x="936" y="777" width="6" height="4" fill="#1a1a1a"/>
<circle cx="910.6" cy="763.8" r="3" fill="#1a1a1a"/>
<circle cx="924.9" cy="763.8" r="3" fill="#1a1a1a"/>
<circle cx="938.9" cy="763.8" r="3" fill="#1a1a1a"/>
<circle cx="951.5" cy="763.8" r="3" fill="#1a1a1a"/>
<circle cx="964.1" cy="763.8" r="3" fill="#1a1a1a"/>
<text x="925.2" y="792.5" font-size="9.5" font-weight="bold" fill="#222" text-anchor="middle" font-family="Liberation Sans">L</text>
<text x="951.8" y="792.5" font-size="9.5" font-weight="bold" fill="#222" text-anchor="middle" font-family="Liberation Sans">S</text>
<rect x="895.5" y="800.2" width="16" height="7" fill="#d9d9d9"/><rect x="914.4" y="800.2" width="66.5" height="7" fill="#d9d9d9"/>
<text x="903.5" y="805.8" font-size="5.5" font-weight="bold" fill="#333" text-anchor="middle" font-family="Liberation Sans">W</text>
<text x="916" y="805.8" font-size="5.5" fill="#555" font-family="Liberation Sans">Stator</text>
<text x="903.5" y="813.9" font-size="5.5" font-weight="bold" fill="#333" text-anchor="middle" font-family="Liberation Sans">L</text>
<text x="916" y="813.9" font-size="5.5" fill="#555" font-family="Liberation Sans">Lamp</text>
<rect x="895.5" y="816.3" width="16" height="7" fill="#d9d9d9"/><rect x="914.4" y="816.3" width="66.5" height="7" fill="#d9d9d9"/>
<text x="903.5" y="821.9" font-size="5.5" font-weight="bold" fill="#333" text-anchor="middle" font-family="Liberation Sans">15</text>
<text x="916" y="821.9" font-size="5.5" fill="#555" font-family="Liberation Sans">Ignition</text>
<text x="903.5" y="829.9" font-size="5.5" font-weight="bold" fill="#333" text-anchor="middle" font-family="Liberation Sans">S</text>
<text x="916" y="829.9" font-size="5.5" fill="#555" font-family="Liberation Sans">Battery Sensor</text>
<rect x="895.5" y="832" width="16" height="7" fill="#d9d9d9"/><rect x="914.4" y="832" width="66.5" height="7" fill="#d9d9d9"/>
<text x="903.5" y="837.6" font-size="5.5" font-weight="bold" fill="#333" text-anchor="middle" font-family="Liberation Sans">DFM</text>
<text x="916" y="837.6" font-size="5.5" fill="#555" font-family="Liberation Sans">Feedback</text>
</svg>
<svg width="17" height="14" viewBox="0 0 17 14" style="position:absolute;left:22px;top:560px"><path d="M0,1 L0,6 L7,13 L13,7 L6,0 L1,0 Z" fill="#111"/><circle cx="3" cy="3" r="1.2" fill="#fff"/><path d="M8,0 L15,7 L9,13 L10,13.5 L16.5,7 L9.5,0 Z" fill="#111"/></svg>
<div class="t" style="left:44px;top:559px;">AS index: <span class="b">A0063</span></div>
<svg width="15" height="13" viewBox="0 0 15 13" style="position:absolute;left:22px;top:593px"><path d="M11,6.5 L11,10.5 Q11,11.8 9.7,11.8 L2.3,11.8 Q1,11.8 1,10.5 L1,3 Q1,1.7 2.3,1.7 L8,1.7" fill="none" stroke="#ec1c24" stroke-width="1.8"/><path d="M3.2,5.8 L6,8.6 L13.6,1.2" fill="none" stroke="#ec1c24" stroke-width="2.8"/></svg>
<div class="t red" style="left:44px;top:592px;">STANDARD LINE</div>
<svg width="14" height="14" viewBox="0 0 14 14" style="position:absolute;left:330px;top:560px"><circle cx="7" cy="7" r="7" fill="#111"/><rect x="6" y="5.8" width="2.2" height="5" fill="#fff"/><rect x="5" y="5.8" width="2" height="1.2" fill="#fff"/><rect x="5" y="9.6" width="4.4" height="1.3" fill="#fff"/><circle cx="7.1" cy="3.6" r="1.2" fill="#fff"/></svg>
<div class="t" style="left:351px;top:559px;">Brand new AS-PL Alternator</div>
<svg width="14" height="14" viewBox="0 0 14 14" style="position:absolute;left:330px;top:593px"><circle cx="7" cy="7" r="7" fill="#111"/><rect x="6" y="5.8" width="2.2" height="5" fill="#fff"/><rect x="5" y="5.8" width="2" height="1.2" fill="#fff"/><rect x="5" y="9.6" width="4.4" height="1.3" fill="#fff"/><circle cx="7.1" cy="3.6" r="1.2" fill="#fff"/></svg>
<div class="t" style="left:351px;top:592px;">Product type: <span class="b" style="letter-spacing:-0.3px">Brand new</span></div>
<svg width="14" height="14" viewBox="0 0 14 14" style="position:absolute;left:735px;top:560px"><circle cx="7" cy="7" r="7" fill="#111"/><rect x="6" y="5.8" width="2.2" height="5" fill="#fff"/><rect x="5" y="5.8" width="2" height="1.2" fill="#fff"/><rect x="5" y="9.6" width="4.4" height="1.3" fill="#fff"/><circle cx="7.1" cy="3.6" r="1.2" fill="#fff"/></svg>
<div class="t" style="left:752px;top:559px;">Producer: <span class="b">AS-PL</span></div>
<svg width="90" height="40" viewBox="0 0 90 40" style="position:absolute;left:780px;top:580px">
<path d="M18,27 L34,3 L44,3 L41,27 L34,27 L34.8,22 L28,22 L25,27 Z M30.5,17.5 L35.5,17.5 L37,9 Z" fill="#e31e24"/>
<path d="M62,3 L50,3 Q43,3 41.5,9.5 Q40.5,14.5 46,16 L52,17.5 Q53,18 52.5,19.5 Q52,21 50,21 L40,21 L38.5,27 L52,27 Q60,27 61.5,19.5 Q62.5,14 57,12.5 L51.5,11 Q50.5,10.5 51,9.5 Q51.5,8.7 53,8.7 L60.5,8.7 Z" fill="#e31e24"/>
<g fill="#e31e24"><rect x="56" y="3" width="18.5" height="1.8"/><rect x="60" y="6" width="14.5" height="1.8"/><rect x="62" y="9" width="12.5" height="1.8"/><rect x="62" y="12" width="12.5" height="1.8"/><rect x="62" y="15" width="12.5" height="1.8"/><rect x="61" y="18" width="13.5" height="1.8"/><rect x="59" y="21" width="15.5" height="1.8"/><rect x="50" y="24.2" width="24.5" height="1.8"/></g>
<text x="44" y="35.2" font-size="6.2" fill="#555" text-anchor="middle" font-family="Liberation Sans">Alternators, Starters &amp; Parts</text>
</svg>
<div style="position:absolute;left:11px;top:627px;width:854px;height:217px;background:#d0d0d0;"></div><div class="c" style="left:13px;top:629px;width:211px;height:29px;background:#e8e8e8;line-height:32px;">Voltage</div><div class="c" style="left:226px;top:629px;width:211px;height:29px;background:#fff;line-height:32px;">24 V</div><div class="c" style="left:439px;top:629px;width:211px;height:29px;background:#e8e8e8;line-height:32px;">Amp.</div><div class="c" style="left:652px;top:629px;width:211px;height:29px;background:#fff;line-height:32px;">110 A</div><div class="c" style="left:13px;top:660px;width:211px;height:29px;background:#e8e8e8;line-height:32px;">Size A</div><div class="c" style="left:226px;top:660px;width:211px;height:29px;background:#fff;line-height:32px;">44.00 mm</div><div class="c" style="left:439px;top:660px;width:211px;height:29px;background:#e8e8e8;line-height:32px;">Size B</div><div class="c" style="left:652px;top:660px;width:211px;height:29px;background:#fff;line-height:32px;">13.50 mm</div><div class="c" style="left:13px;top:691px;width:211px;height:29px;background:#e8e8e8;line-height:32px;">Size C</div><div class="c" style="left:226px;top:691px;width:211px;height:29px;background:#fff;line-height:32px;">106.00 mm</div><div class="c" style="left:439px;top:691px;width:211px;height:29px;background:#e8e8e8;line-height:32px;">G</div><div class="c" style="left:652px;top:691px;width:211px;height:29px;background:#fff;line-height:32px;">8 qty.</div><div class="c" style="left:13px;top:722px;width:211px;height:28px;background:#e8e8e8;line-height:31px;">O.D.1</div><div class="c" style="left:226px;top:722px;width:211px;height:28px;background:#fff;line-height:31px;">62.00 mm</div><div class="c" style="left:439px;top:722px;width:211px;height:28px;background:#e8e8e8;line-height:31px;">Pulley</div><div class="c" style="left:652px;top:722px;width:211px;height:28px;background:#fff;line-height:31px;">AP&nbsp;</div><div class="c" style="left:13px;top:752px;width:211px;height:29px;background:#e8e8e8;line-height:32px;">D.1</div><div class="c" style="left:226px;top:752px;width:211px;height:29px;background:#fff;line-height:32px;">11.00 mm</div><div class="c" style="left:439px;top:752px;width:211px;height:29px;background:#e8e8e8;line-height:32px;">D.2</div><div class="c" style="left:652px;top:752px;width:211px;height:29px;background:#fff;line-height:32px;">13.00 mm</div><div class="c" style="left:13px;top:783px;width:211px;height:29px;background:#e8e8e8;line-height:32px;">D.3</div><div class="c" style="left:226px;top:783px;width:211px;height:29px;background:#fff;line-height:32px;">13.00 mm</div><div class="c" style="left:439px;top:783px;width:211px;height:29px;background:#e8e8e8;line-height:32px;">L.1</div><div class="c" style="left:652px;top:783px;width:211px;height:29px;background:#fff;line-height:32px;">218.00 mm</div><div class="c" style="left:13px;top:814px;width:211px;height:28px;background:#e8e8e8;line-height:31px;">Plug</div><div class="c" style="left:226px;top:814px;width:211px;height:28px;background:#fff;line-height:31px;">PL_5003</div><div class="c" style="left:439px;top:814px;width:211px;height:28px;background:#e8e8e8;line-height:31px;"></div><div class="c" style="left:652px;top:814px;width:211px;height:28px;background:#fff;line-height:31px;"></div>
</body></html>
